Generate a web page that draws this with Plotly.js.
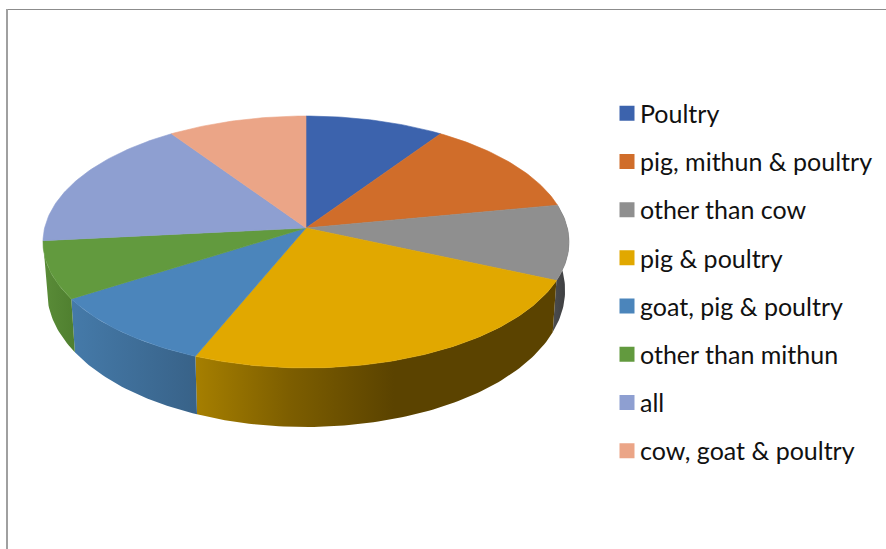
<!DOCTYPE html>
<html>
<head>
<meta charset="utf-8">
<script src="https://cdn.plot.ly/plotly-3.0.1.min.js"></script>
<style>html,body{margin:0;padding:0;background:#fff}#chart{width:886px;height:549px}</style>
</head>
<body>
<div id="chart"></div>
<script>
// Data (share of total, %)
const categories = ["Poultry","pig, mithun & poultry","other than cow","pig & poultry","goat, pig & poultry","other than mithun","all","cow, goat & poultry"];
const values = [9.5, 12.5, 9.6, 24.6, 9.8, 7.4, 17.1, 9.5];

// Styles
const topColors = ["#3c63ad","#d06d2a","#8f8f8f","#e1a800","#4b85bb","#629a3e","#8e9fd1","#eba587"];
const wallScales = [
  null, null,
  [[0,"#4c4d4f"],[1,"#3a3b3d"]],
  [[0,"#a67f00"],[0.26,"#7d5e00"],[0.55,"#5b4300"],[1,"#5b4300"]],
  [[0,"#457aa9"],[1,"#386288"]],
  [[0,"#5a8c38"],[1,"#4f7f2f"]],
  null, null
];

// Perspective projection of the disc
const CX = 306, CY = 228, R = 261.4, A = 124.4, B = 1/9;
function topRim(deg){
  const t = deg*Math.PI/180, u = Math.sin(t), v = -Math.cos(t), k = 1/(1-B*v);
  return [CX + R*u*k, CY + A*v*k, v];
}
function bottomRim(deg){
  const p = topRim(deg);
  return [CX + (p[0]-CX)*0.985, p[1] + 47 + 12*p[2]];
}
function arc(fn, a, b){
  const pts = [], n = Math.max(2, Math.ceil(Math.abs(b-a)));
  for(let i=0;i<=n;i++) pts.push(fn(a+(b-a)*i/n));
  return pts;
}

const total = values.reduce((s,v)=>s+v,0);
const angles = [0];
values.forEach(v=>angles.push(angles[angles.length-1]+v/total*360));

const traces = [];
// side wall
categories.forEach((c,i)=>{
  if(!wallScales[i]) return;
  const pts = arc(topRim,angles[i],angles[i+1]).concat(arc(bottomRim,angles[i+1],angles[i]));
  pts.push(pts[0]);
  traces.push({type:"scatter",mode:"lines",x:pts.map(p=>p[0]),y:pts.map(p=>p[1]),
    fill:"toself",fillgradient:{type:"horizontal",colorscale:wallScales[i]},
    line:{width:0},showlegend:false,hoverinfo:"skip"});
});
// top face
categories.forEach((c,i)=>{
  const pts = [[CX,CY]].concat(arc(topRim,angles[i],angles[i+1]));
  pts.push([CX,CY]);
  traces.push({type:"scatter",mode:"lines",x:pts.map(p=>p[0]),y:pts.map(p=>p[1]),
    fill:"toself",fillcolor:topColors[i],line:{width:0.6,color:topColors[i]},
    name:c,showlegend:false,hoverinfo:"name"});
});
// legend entries
categories.forEach((c,i)=>{
  traces.push({type:"scatter",mode:"markers",x:[null],y:[null],name:c,legendgroup:c,
    marker:{symbol:"square",size:15,color:topColors[i],line:{width:0}},hoverinfo:"skip"});
});

const layout = {
  width:886,height:549,margin:{l:0,r:0,t:0,b:0,pad:0},
  paper_bgcolor:"#fff",plot_bgcolor:"#fff",
  xaxis:{range:[0,886],visible:false,fixedrange:true},
  yaxis:{range:[549,0],visible:false,fixedrange:true},
  legend:{x:600/886,xanchor:"left",y:1-90.5/549,yanchor:"top",
    font:{family:"Lato, Carlito, sans-serif",size:25,color:"#111"},
    tracegroupgap:12.7,bgcolor:"rgba(0,0,0,0)",borderwidth:0},
  shapes:[
    {type:"line",xref:"paper",yref:"paper",x0:7/886,x1:1,y0:1-9.5/549,y1:1-9.5/549,line:{color:"#8c8c8c",width:1}},
    {type:"line",xref:"paper",yref:"paper",x0:7/886,x1:7/886,y0:1-9/549,y1:0,line:{color:"#a0a0a0",width:2}}
  ],
  showlegend:true
};
Plotly.newPlot("chart",traces,layout,{displayModeBar:false,staticPlot:true}).then(gd=>{
  // legend swatches sit closer to their labels than Plotly's fixed gap
  gd.querySelectorAll(".legend .legendsymbols").forEach(g=>g.setAttribute("transform","translate(7,0)"));
});
</script>
</body>
</html>
